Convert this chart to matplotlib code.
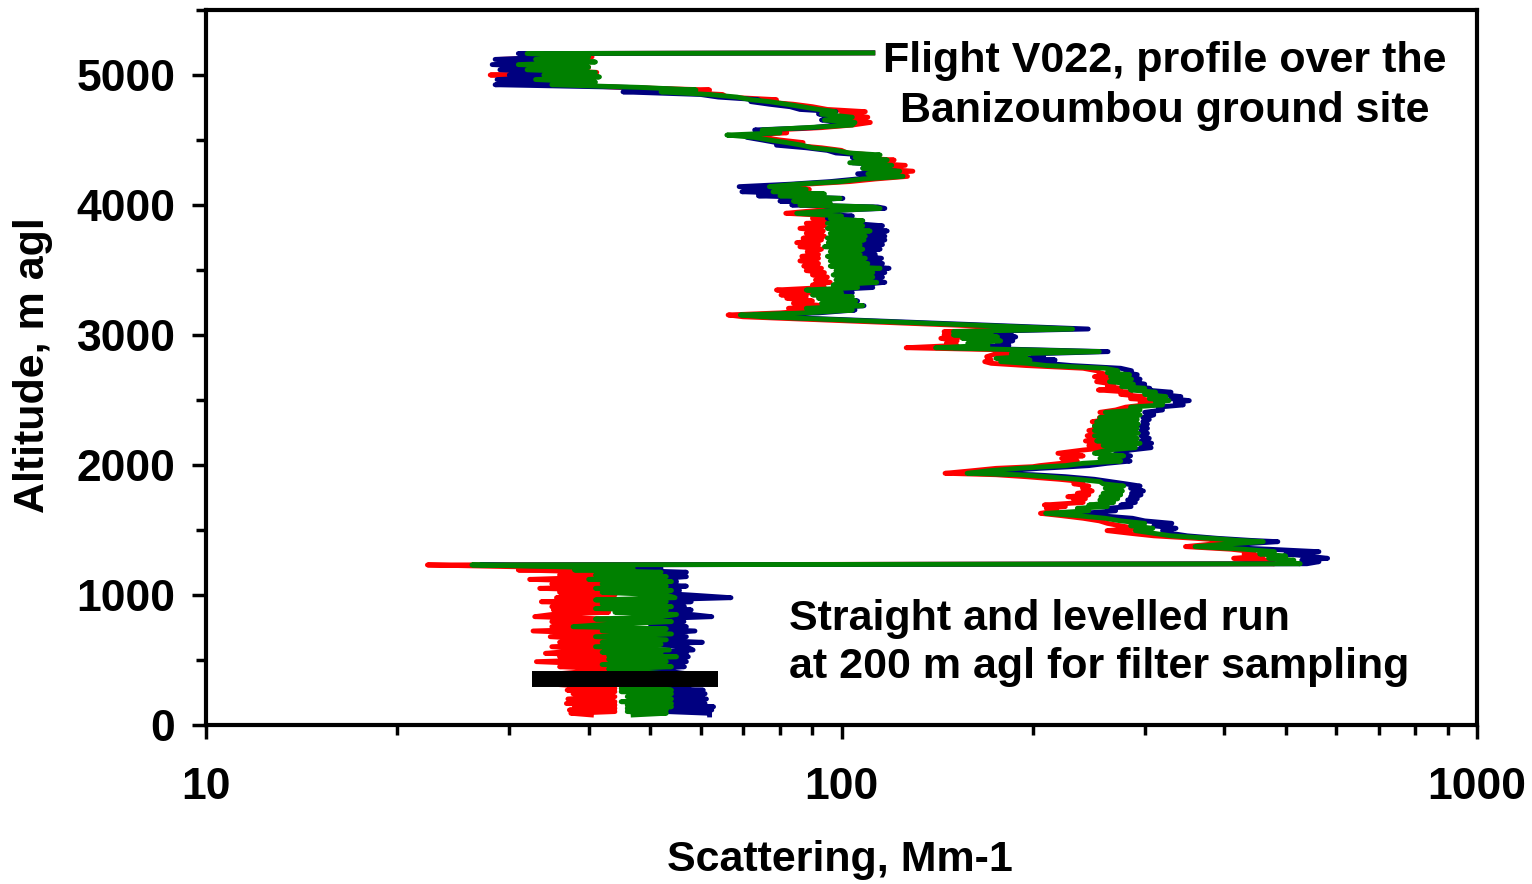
import matplotlib.pyplot as plt
from matplotlib.ticker import MultipleLocator, LogLocator, NullFormatter

plt.rcParams['font.family'] = ['Liberation Sans', 'DejaVu Sans']
plt.rcParams['font.weight'] = 'bold'

# descent profile, top to bottom (altitude in m agl, scattering in Mm-1)
alt_m = [
    5170, 5165, 5140, 5120, 5100, 5080, 5060, 5040, 5020, 5000,
    4985, 4965, 4945, 4925, 4905, 4885, 4870, 4850, 4830, 4810,
    4795, 4775, 4756, 4735, 4718, 4700, 4675, 4654, 4635, 4615,
    4595, 4577, 4555, 4538, 4520, 4500, 4480, 4460, 4440, 4420,
    4400, 4385, 4365, 4346, 4325, 4305, 4282, 4260, 4240, 4220,
    4200, 4180, 4160, 4141, 4120, 4102, 4085, 4070, 4051, 4030,
    4015, 4000, 3985, 3974, 3955, 3936, 3915, 3897, 3878, 3859,
    3840, 3820, 3800, 3782, 3760, 3745, 3731, 3710, 3695, 3679,
    3660, 3641, 3620, 3605, 3590, 3570, 3550, 3530, 3513, 3495,
    3480, 3462, 3445, 3423, 3405, 3385, 3365, 3346, 3325, 3308,
    3295, 3282, 3262, 3244, 3225, 3205, 3192, 3170, 3154, 3140,
    3046, 3026, 3010, 3000, 2985, 2974, 2955, 2936, 2920, 2902,
    2872, 2855, 2833, 2820, 2808, 2795, 2782, 2765, 2744, 2725,
    2710, 2695, 2679, 2660, 2641, 2622, 2603, 2590, 2577, 2560,
    2543, 2526, 2510, 2495, 2482, 2462, 2445, 2423, 2405, 2385,
    2365, 2350, 2333, 2315, 2300, 2282, 2265, 2244, 2225, 2205,
    2185, 2167, 2150, 2133, 2115, 2090, 2070, 2051, 2030, 2013,
    1995, 1987, 1974, 1955, 1936, 1925, 1910, 1890, 1872, 1855,
    1838, 1821, 1800, 1782, 1770, 1756, 1740, 1731, 1712, 1692,
    1680, 1667, 1648, 1628, 1610, 1590, 1570, 1551, 1532, 1513,
    1495, 1474, 1455, 1436, 1420, 1410, 1390, 1372, 1352, 1333,
    1315, 1300, 1282, 1268, 1256, 1240, 1231,
    1218, 1205, 1192, 1175, 1154, 1141, 1120, 1103, 1085, 1068,
    1051, 1035, 1020, 1000, 979, 962, 948, 930, 910, 895,
    885, 867, 850, 833, 815, 795, 775, 756, 740, 723,
    700, 679, 655, 636, 620, 602, 577, 560, 551, 535,
    525, 505, 487, 465, 448, 430, 390, 350, 310, 282,
    268, 256, 240, 218, 200, 179, 165, 154, 140, 128,
    115, 103, 90, 77,
]

# red channel
sc_700 = [
    112, 33, 40.5, 29, 39, 30, 40, 33, 41.2, 28,
    38, 29, 40, 36, 45, 62, 54, 65, 66, 79,
    75, 84, 90, 95, 109, 100, 110, 101, 111, 104,
    93, 78, 82, 72, 75, 80, 87, 84, 93, 100,
    102, 112, 105, 121, 108, 126, 112, 129.5, 114, 127,
    113, 103, 88, 78, 89, 80, 92, 82, 94, 84,
    92, 86, 105, 100, 90, 81.7, 98, 90, 107.7, 88,
    94, 86, 93.6, 88, 94, 87, 93, 85, 92, 86,
    93, 88.3, 92, 86.6, 92, 86, 92, 87.2, 93, 88,
    94, 90, 95, 91, 96, 90, 94, 79, 90, 80.3,
    88, 82, 90, 84, 94, 82.5, 92, 80, 66.3, 70,
    215, 145, 158, 145, 155, 143.3, 152, 146.2, 152, 126.4,
    240, 175, 169.2, 170, 172, 168, 172, 195, 240, 252,
    255, 262, 250, 265, 252, 268, 262, 275, 253.6, 285,
    275, 298, 285, 318, 295, 300, 280, 270, 255, 268,
    254.6, 262, 248, 258, 250, 256, 245, 255, 243.5, 255,
    242, 255, 245, 262, 240, 219, 240, 222, 235, 222,
    205, 200, 175, 160, 145.5, 175, 195, 220, 240, 232,
    245, 239.5, 248, 235, 245, 227, 242, 232, 240, 208.5,
    225, 210, 218, 205.6, 222, 240, 254.6, 262, 275, 290,
    261.7, 285, 310, 360, 400, 440, 380, 347.7, 410, 445,
    430, 460, 414, 470, 450, 480, 22.3,
    30, 42, 31, 43, 36, 44, 32.3, 43, 35, 44,
    33.5, 43, 36, 44, 35.6, 42, 33.7, 43, 35, 44,
    35.2, 43, 35, 32.9, 43, 35, 44, 35, 43, 32.7,
    44, 34.8, 43, 36, 44, 35, 43, 36, 34.2, 43,
    36, 44, 33.1, 43, 36, 44, 35, 44, 36, 44,
    37, 44, 37.8, 44, 37.1, 44, 36.9, 44, 38, 44,
    37.3, 44, 37.5, 40.4,
]

# blue channel
sc_450 = [
    112, 31, 36, 28.5, 35, 28.2, 36, 29, 37, 30,
    36, 28.7, 37, 28.5, 46, 57, 45.3, 60, 64, 74,
    72, 77, 83, 86, 98, 92, 100, 93, 102, 98,
    90, 73, 78, 70, 71, 75, 79, 79, 88, 95,
    98, 108, 104, 115, 104, 118, 108, 122, 106, 120,
    105.7, 96, 83, 69, 84, 69.7, 88, 74, 100.5, 80,
    95, 83.5, 114, 117, 95, 90, 104, 95, 108, 104,
    116, 107, 118, 108, 117, 107, 117, 108, 116, 106,
    115, 108, 113, 108, 115.6, 107, 116, 108, 118.8, 108,
    117, 108, 116, 108, 117, 106, 112, 94, 104, 96,
    103, 96, 106, 98, 108.5, 95, 105, 92, 72.5, 77,
    244.5, 160, 185, 172, 188, 178, 186, 176, 183.4, 150,
    262.7, 200, 208, 195, 216.8, 196, 210, 230, 275, 286,
    280, 292, 282, 295, 284, 300, 290, 305.6, 300, 330,
    318, 342, 330, 352.6, 335, 345, 315, 320, 300, 310,
    298, 305, 298, 303, 296, 303, 296, 303, 296, 305,
    296, 307.6, 296, 307, 285, 270, 285, 270, 284.5, 262,
    245, 230, 205, 180, 165, 200, 225, 250, 265, 280,
    295, 285, 298.6, 286, 296, 285, 292, 282, 290, 275,
    285.5, 262, 270, 240, 255, 287, 300, 331, 310, 336,
    320, 330, 350, 390, 440, 486, 420, 375, 470, 564,
    500, 540, 582, 530, 564, 540, 27,
    40, 52, 45, 57, 50, 57, 50, 55, 49, 57,
    50, 55.6, 49, 57.7, 67, 50, 58, 50, 56.6, 50,
    58, 50, 58, 62.5, 49, 56.5, 50, 57, 49, 58.8,
    50, 57, 49, 60.4, 50, 57, 58.4, 50, 57, 49,
    57.4, 50, 57, 50, 56.6, 50, 58, 50, 58, 52,
    60.6, 52, 61, 53, 61.3, 53, 61, 53, 62.9, 53,
    62.5, 53, 62, 62,
]

# green channel
sc_550 = [
    112, 32, 40, 33, 41, 31, 40, 32, 41, 34,
    41.6, 33, 41, 35, 48, 59, 52, 62, 68.5, 72,
    77, 82, 86.6, 92, 97.8, 93, 104, 94, 105, 104,
    88, 75, 80, 66, 73, 77, 82, 86.6, 90, 98,
    103, 115, 105, 118, 103, 120, 108, 123.5, 110, 125,
    108, 100, 85, 77, 88, 78, 94, 80, 99.5, 84,
    96, 86, 112, 115, 95, 85, 100, 96, 108, 95,
    108, 95, 110.9, 96, 109, 95, 108.5, 95.3, 107, 94,
    108, 96, 107, 95, 109, 96, 110, 96, 115, 98,
    112, 97, 112, 98, 113.6, 97, 106, 88, 100, 90,
    104, 92, 105.3, 93, 108, 88, 104, 88, 69.3, 75,
    231, 150, 172, 150, 176, 155, 178, 158, 170, 140.6,
    254.5, 185, 195, 175, 198, 178, 196, 210, 260, 272,
    262, 284, 265, 286, 264, 288, 276, 300, 285, 312,
    300, 324, 305, 327.6, 312, 320, 285, 295, 260, 295,
    255, 292, 252, 293, 250, 292, 250, 293, 250, 292,
    252, 295, 258, 290, 262, 250, 278, 255, 275, 240,
    225, 210, 190, 170, 157.6, 190, 210, 235, 255, 258,
    278, 260, 276.7, 258, 275, 256, 272, 255, 268, 245,
    262, 235, 245, 209.5, 235, 260, 275, 300, 285, 309,
    290, 310, 330, 380, 420, 461, 400, 360, 430, 480,
    455, 500, 470, 515, 490, 527, 26.2,
    35, 47, 38, 52, 41, 53, 40, 54, 42, 53,
    41, 54, 42, 53, 54.7, 41, 53, 42, 54, 41,
    53, 44, 55, 52, 41, 54, 43, 37.8, 53, 42,
    54, 41, 53, 42, 52, 41, 53.6, 42, 52, 43,
    55, 43, 53, 42, 54, 43, 54, 43, 54, 45,
    54, 45, 54, 46, 54, 45, 54, 46, 54, 46,
    53, 46, 53, 47,
]

assert len(alt_m) == len(sc_700) == len(sc_450) == len(sc_550)

# straight-and-level filter sampling run
run_scat = [32.6, 64]
run_alt = [355, 355]

fig = plt.figure(figsize=(15.32, 8.84), dpi=100)
ax = fig.add_axes([0.1345, 0.1799, 0.8296, 0.8088])

ax.plot(sc_700, alt_m, color='#ff0000', lw=3.5)
ax.plot(sc_450, alt_m, color='#000080', lw=3.5)
ax.plot(sc_550, alt_m, color='#008000', lw=3.5)
ax.plot(run_scat, run_alt, color='black', lw=11.5, solid_capstyle='butt')

ax.set_xscale('log')
ax.set_xlim(10, 1000)
ax.set_ylim(0, 5500)

ax.set_xticks([10, 100, 1000], labels=['10', '100', '1000'])
ax.xaxis.set_minor_locator(LogLocator(base=10, subs=range(2, 10)))
ax.xaxis.set_minor_formatter(NullFormatter())
ax.set_yticks(range(0, 5001, 1000))
ax.yaxis.set_minor_locator(MultipleLocator(500))

for sp in ax.spines.values():
    sp.set_linewidth(3)
ax.tick_params(which='major', direction='out', length=10, width=2.5, labelsize=32)
ax.tick_params(which='minor', direction='out', length=7.5, width=2.5)
ax.tick_params(axis='y', pad=12)
ax.tick_params(axis='x', pad=20)
ax.tick_params(top=False, right=False)

fig.text(33 / 1532, 1 - 365 / 884, 'Altitude, m agl', rotation=90,
         ha='center', va='center', fontsize=31)
fig.text(840 / 1532, 1 - 860 / 884, 'Scattering, Mm-1',
         ha='center', va='center', fontsize=31)

ax.text(323, 4915, 'Flight V022, profile over the\nBanizoumbou ground site',
        ha='center', va='center', multialignment='center', fontsize=31,
        linespacing=1.32)
ax.text(82.7, 631, 'Straight and levelled run\nat 200 m agl for filter sampling',
        ha='left', va='center', multialignment='left', fontsize=31,
        linespacing=1.28)

fig.savefig('out.png', dpi=100)
